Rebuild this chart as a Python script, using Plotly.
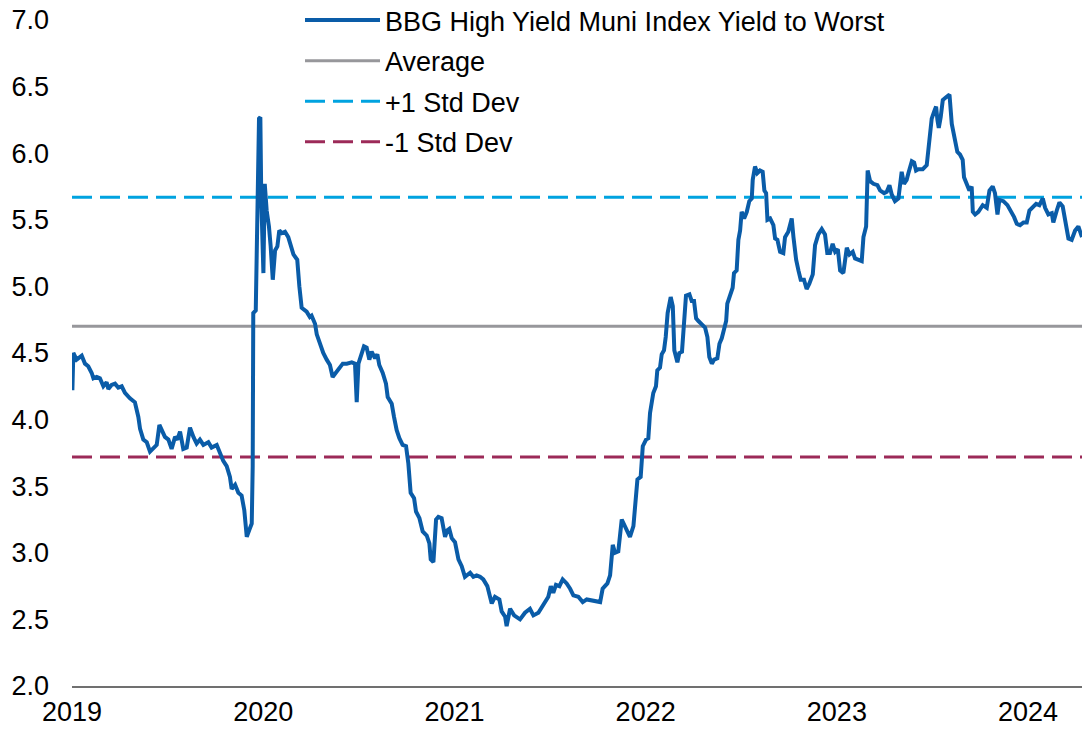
import plotly.graph_objects as go

# chart values
years = [
    2019.002, 2019.007, 2019.024, 2019.051, 2019.068, 2019.085, 2019.103, 2019.112, 2019.129, 2019.146,
    2019.164, 2019.181, 2019.190, 2019.207, 2019.225, 2019.242, 2019.260, 2019.277, 2019.303, 2019.329,
    2019.347, 2019.356, 2019.373, 2019.391, 2019.408, 2019.425, 2019.443, 2019.457, 2019.469, 2019.486,
    2019.504, 2019.521, 2019.539, 2019.551, 2019.565, 2019.582, 2019.600, 2019.617, 2019.635, 2019.652,
    2019.669, 2019.687, 2019.713, 2019.730, 2019.757, 2019.774, 2019.791, 2019.809, 2019.826, 2019.835,
    2019.853, 2019.870, 2019.887, 2019.901, 2019.914, 2019.927, 2019.940, 2019.945, 2019.948, 2019.961,
    2019.969, 2019.978, 2019.985, 2019.990, 2020.001, 2020.008, 2020.018, 2020.030, 2020.039, 2020.050,
    2020.062, 2020.074, 2020.084, 2020.097, 2020.114, 2020.131, 2020.158, 2020.178, 2020.189, 2020.201,
    2020.227, 2020.244, 2020.253, 2020.271, 2020.280, 2020.301, 2020.314, 2020.332, 2020.349, 2020.363,
    2020.384, 2020.401, 2020.416, 2020.437, 2020.463, 2020.480, 2020.489, 2020.498, 2020.510, 2020.527,
    2020.541, 2020.555, 2020.567, 2020.585, 2020.597, 2020.607, 2020.625, 2020.642, 2020.651, 2020.672,
    2020.684, 2020.698, 2020.712, 2020.729, 2020.747, 2020.759, 2020.771, 2020.789, 2020.799, 2020.817,
    2020.834, 2020.855, 2020.869, 2020.876, 2020.890, 2020.904, 2020.916, 2020.933, 2020.951, 2020.963,
    2020.973, 2020.986, 2021.003, 2021.021, 2021.038, 2021.055, 2021.082, 2021.099, 2021.116, 2021.134,
    2021.151, 2021.172, 2021.195, 2021.212, 2021.235, 2021.247, 2021.265, 2021.273, 2021.291, 2021.312,
    2021.343, 2021.369, 2021.395, 2021.413, 2021.439, 2021.465, 2021.491, 2021.504, 2021.517, 2021.531,
    2021.549, 2021.566, 2021.587, 2021.605, 2021.622, 2021.648, 2021.671, 2021.692, 2021.718, 2021.744,
    2021.762, 2021.775, 2021.800, 2021.814, 2021.828, 2021.840, 2021.857, 2021.875, 2021.897, 2021.918,
    2021.936, 2021.945, 2021.957, 2021.974, 2021.985, 2022.002, 2022.014, 2022.023, 2022.040, 2022.054,
    2022.061, 2022.075, 2022.084, 2022.096, 2022.105, 2022.115, 2022.131, 2022.142, 2022.150, 2022.166,
    2022.176, 2022.190, 2022.201, 2022.211, 2022.229, 2022.241, 2022.253, 2022.264, 2022.276, 2022.293,
    2022.311, 2022.323, 2022.333, 2022.346, 2022.358, 2022.375, 2022.386, 2022.398, 2022.410, 2022.421,
    2022.427, 2022.441, 2022.455, 2022.462, 2022.476, 2022.485, 2022.494, 2022.502, 2022.515, 2022.529,
    2022.542, 2022.555, 2022.560, 2022.572, 2022.584, 2022.598, 2022.612, 2022.621, 2022.630, 2022.637,
    2022.651, 2022.668, 2022.677, 2022.689, 2022.703, 2022.720, 2022.729, 2022.746, 2022.764, 2022.773,
    2022.787, 2022.799, 2022.811, 2022.828, 2022.842, 2022.856, 2022.874, 2022.886, 2022.903, 2022.921,
    2022.938, 2022.950, 2022.964, 2022.978, 2022.991, 2023.005, 2023.017, 2023.034, 2023.052, 2023.066,
    2023.083, 2023.095, 2023.113, 2023.130, 2023.139, 2023.153, 2023.161, 2023.174, 2023.191, 2023.212,
    2023.226, 2023.247, 2023.261, 2023.275, 2023.287, 2023.304, 2023.322, 2023.339, 2023.351, 2023.365,
    2023.374, 2023.392, 2023.404, 2023.414, 2023.426, 2023.449, 2023.470, 2023.484, 2023.496, 2023.508,
    2023.519, 2023.526, 2023.533, 2023.543, 2023.554, 2023.571, 2023.589, 2023.601, 2023.609, 2023.618,
    2023.630, 2023.644, 2023.658, 2023.665, 2023.679, 2023.693, 2023.705, 2023.711, 2023.723, 2023.740,
    2023.763, 2023.784, 2023.798, 2023.815, 2023.827, 2023.840, 2023.850, 2023.871, 2023.892, 2023.909,
    2023.927, 2023.941, 2023.958, 2023.976, 2023.993, 2024.007, 2024.024, 2024.042, 2024.059, 2024.077,
    2024.089, 2024.106, 2024.124, 2024.132, 2024.150, 2024.164, 2024.181, 2024.194, 2024.211, 2024.228,
    2024.246, 2024.263, 2024.282,
]
yield_to_worst = [
    4.22, 4.50, 4.45, 4.48, 4.42, 4.40, 4.35, 4.31, 4.32, 4.31,
    4.25, 4.28, 4.23, 4.26, 4.27, 4.24, 4.25, 4.20, 4.16, 4.13,
    4.02, 3.93, 3.85, 3.83, 3.76, 3.78, 3.81, 3.96, 3.92, 3.87,
    3.85, 3.78, 3.87, 3.85, 3.91, 3.78, 3.79, 3.94, 3.87, 3.82,
    3.85, 3.81, 3.83, 3.79, 3.81, 3.74, 3.69, 3.65, 3.57, 3.48,
    3.51, 3.45, 3.43, 3.32, 3.12, 3.17, 3.22, 3.65, 4.80, 4.82,
    5.40, 6.26, 6.27, 5.65, 5.10, 5.77, 5.57, 5.45, 5.30, 5.05,
    5.27, 5.30, 5.42, 5.40, 5.41, 5.37, 5.24, 5.20, 5.00, 4.84,
    4.81, 4.77, 4.78, 4.72, 4.64, 4.54, 4.50, 4.45, 4.41, 4.32,
    4.36, 4.39, 4.42, 4.42, 4.43, 4.42, 4.13, 4.42, 4.47, 4.55,
    4.54, 4.45, 4.51, 4.46, 4.49, 4.41, 4.35, 4.27, 4.17, 4.12,
    4.02, 3.92, 3.86, 3.81, 3.80, 3.67, 3.45, 3.41, 3.31, 3.26,
    3.16, 3.13, 3.07, 2.95, 2.93, 3.25, 3.27, 3.26, 3.12, 3.17,
    3.18, 3.11, 3.08, 2.95, 2.90, 2.82, 2.85, 2.82, 2.83, 2.82,
    2.80, 2.75, 2.62, 2.67, 2.65, 2.56, 2.52, 2.45, 2.58, 2.53,
    2.50, 2.55, 2.58, 2.53, 2.55, 2.61, 2.67, 2.75, 2.70, 2.76,
    2.75, 2.80, 2.77, 2.73, 2.68, 2.67, 2.63, 2.65, 2.64, 2.63,
    2.63, 2.73, 2.77, 2.83, 3.06, 3.00, 3.01, 3.25, 3.18, 3.12,
    3.20, 3.40, 3.55, 3.57, 3.80, 3.85, 3.86, 4.05, 4.20, 4.25,
    4.37, 4.39, 4.49, 4.52, 4.62, 4.80, 4.92, 4.85, 4.52, 4.43,
    4.50, 4.51, 4.77, 4.93, 4.94, 4.89, 4.89, 4.76, 4.74, 4.71,
    4.69, 4.62, 4.47, 4.42, 4.45, 4.46, 4.57, 4.61, 4.67, 4.74,
    4.87, 4.92, 4.99, 5.10, 5.12, 5.35, 5.42, 5.56, 5.51, 5.56,
    5.64, 5.66, 5.80, 5.90, 5.85, 5.87, 5.86, 5.72, 5.70, 5.50,
    5.51, 5.46, 5.36, 5.35, 5.26, 5.25, 5.37, 5.41, 5.51, 5.37,
    5.20, 5.12, 5.05, 5.05, 4.98, 5.02, 5.09, 5.31, 5.39, 5.43,
    5.39, 5.25, 5.25, 5.32, 5.26, 5.28, 5.12, 5.10, 5.29, 5.24,
    5.26, 5.21, 5.20, 5.19, 5.37, 5.45, 5.87, 5.79, 5.77, 5.76,
    5.72, 5.70, 5.71, 5.76, 5.69, 5.64, 5.66, 5.86, 5.77, 5.80,
    5.85, 5.94, 5.93, 5.87, 5.88, 5.88, 5.91, 6.12, 6.26, 6.31,
    6.35, 6.25, 6.19, 6.27, 6.40, 6.42, 6.44, 6.22, 6.17, 6.11,
    6.01, 5.99, 5.95, 5.82, 5.76, 5.72, 5.75, 5.56, 5.54, 5.56,
    5.61, 5.59, 5.72, 5.75, 5.70, 5.54, 5.65, 5.64, 5.61, 5.57,
    5.52, 5.47, 5.46, 5.48, 5.48, 5.57, 5.59, 5.62, 5.61, 5.66,
    5.59, 5.54, 5.55, 5.48, 5.57, 5.63, 5.60, 5.50, 5.36, 5.35,
    5.42, 5.45, 5.37,
]
AVERAGE = 4.70
PLUS_1SD = 5.67
MINUS_1SD = 3.72

tick_years = [2019, 2020, 2021, 2022, 2023, 2024]
tick_labels = ['2019', '2020', '2021', '2022', '2023', '2024']

X_START = 2019.0
X_END = 2024.282

FONT = "Liberation Sans, Arial, sans-serif"

fig = go.Figure()

# reference lines first so the index line sits on top
fig.add_trace(go.Scatter(
    x=[X_START, X_END], y=[AVERAGE, AVERAGE], mode='lines',
    name='Average',
    line=dict(color='#97979B', width=3),
    legendrank=2, legendgroup='avg',
))
fig.add_trace(go.Scatter(
    x=[X_START, X_END], y=[PLUS_1SD, PLUS_1SD], mode='lines',
    name='+1 Std Dev',
    line=dict(color='#00A3E0', width=3, dash='20px,8px'),
    legendrank=3, legendgroup='up',
))
fig.add_trace(go.Scatter(
    x=[X_START, X_END], y=[MINUS_1SD, MINUS_1SD], mode='lines',
    name='-1 Std Dev',
    line=dict(color='#9C2A58', width=3, dash='20px,8px'),
    legendrank=4, legendgroup='dn',
))
fig.add_trace(go.Scatter(
    x=years, y=yield_to_worst, mode='lines',
    name='BBG High Yield Muni Index Yield to Worst',
    line=dict(color='#0A5CA8', width=4),
    legendrank=1, legendgroup='ytw',
))

fig.update_xaxes(
    range=[X_START, X_END],
    tickvals=tick_years,
    ticktext=tick_labels,
    showgrid=False,
    zeroline=False,
    showline=True,
    linecolor='#707070',
    linewidth=1.5,
    ticks='',
    ticklabelstandoff=1,
)
fig.update_yaxes(
    range=[2.0, 7.0],
    dtick=0.5,
    tickformat='.1f',
    showgrid=False,
    zeroline=False,
    showline=False,
    ticks='',
    ticklabelstandoff=22,
    ticklabeloverflow='allow',
)

fig.update_layout(
    width=1082,
    height=730,
    plot_bgcolor='white',
    paper_bgcolor='white',
    margin=dict(l=72, r=0, t=20, b=44, autoexpand=False),
    font=dict(family=FONT, size=27, color='black'),
    legend=dict(
        x=(300 - 72) / 1010,
        y=1.036,
        xanchor='left',
        yanchor='top',
        itemwidth=75,
        traceorder='grouped',
        tracegroupgap=2.5,
        bgcolor='rgba(0,0,0,0)',
        font=dict(family=FONT, size=27, color='black'),
    ),
    showlegend=True,
)

# drop the browser's default 8px body margin so the figure fills the window
fig.write_html("out.html", config={'displayModeBar': False},
               post_script="document.body.style.margin = '0';")
